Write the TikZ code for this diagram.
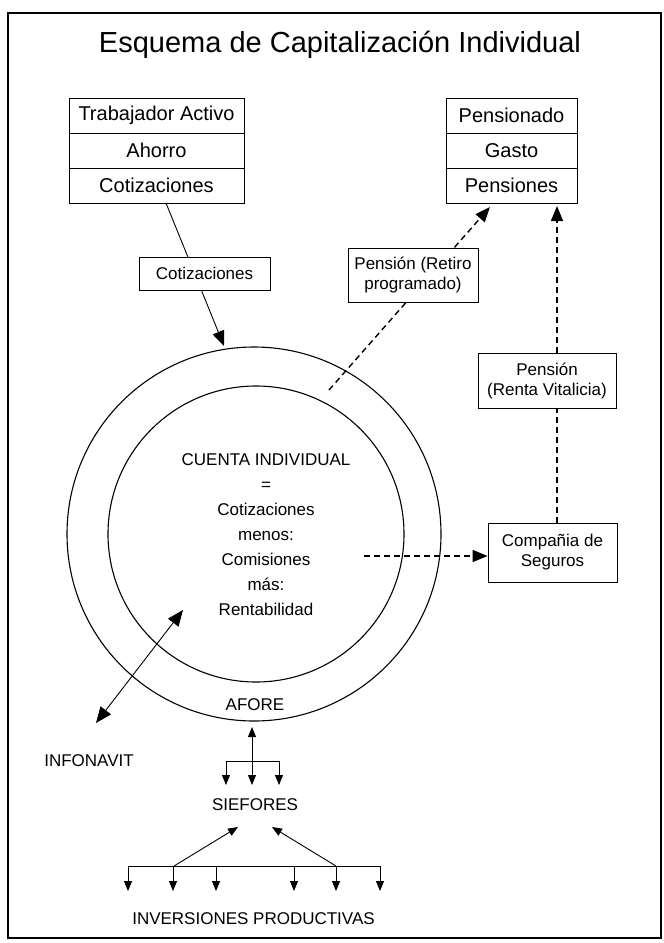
\documentclass[tikz,border=0pt]{standalone}
\usepackage{fontspec}
\setmainfont{Liberation Sans}
\usetikzlibrary{arrows.meta}
\begin{document}
\begin{tikzpicture}[x=1pt,y=-1pt,
  stackbox/.style={draw, line width=0.8pt, inner sep=0pt, minimum height=35pt, font=\fontsize{20}{22}\selectfont},
  lblbox/.style={draw, line width=0.8pt, fill=white, inner sep=0pt, align=center, font=\fontsize{17}{20}\selectfont},
  plain/.style={inner sep=0pt, font=\fontsize{17}{20}\selectfont},
  ctext/.style={inner sep=0pt, anchor=base, font=\fontsize{17}{20}\selectfont},
  ring/.style={draw, circle, line width=1.1pt, inner sep=0pt},
  conn/.style={line width=0.9pt},
  dconn/.style={line width=1.4pt, dash pattern=on 6pt off 4pt},
  bigtip/.style={-{Triangle[length=15pt,width=12pt]}},
  smalltip/.style={-{Triangle[length=10pt,width=8pt]}},
  dbltip/.style={{Triangle[length=16pt,width=13pt]}-{Triangle[length=16pt,width=13pt]}},
  dblsmall/.style={{Triangle[length=10pt,width=8pt]}-{Triangle[length=10pt,width=8pt]}},
]
\useasboundingbox (0,0) rectangle (664,943);
\draw[line width=2.5pt] (8,13) rectangle (661,938);

% title
\node[font=\fontsize{29}{33}\selectfont, anchor=base, inner sep=0pt] (title) at (340,52) {Esquema de Capitalización Individual};

% stacks
\node[stackbox, minimum width=175pt] (ta) at (156.5,115.5) {Trabajador Activo};
\node[stackbox, minimum width=175pt] (ah) at (156.5,150.5) {Ahorro};
\node[stackbox, minimum width=175pt] (ctz) at (156.5,185.5) {Cotizaciones};
\node[stackbox, minimum width=131pt] (pn) at (511.5,115.5) {Pensionado};
\node[stackbox, minimum width=131pt] (gs) at (511.5,150.5) {Gasto};
\node[stackbox, minimum width=131pt] (ps) at (511.5,185.5) {Pensiones};

% circles
\node[ring, minimum size=374pt] (outer) at (254,534) {};
\node[ring, minimum size=296pt] (inner) at (256,534) {};

\node[ctext] (cu1) at (266,465) {CUENTA INDIVIDUAL};
\node[ctext] (cu2) at (266,490) {=};
\node[ctext] (cu3) at (266,515) {Cotizaciones};
\node[ctext] (cu4) at (266,540) {menos:};
\node[ctext] (cu5) at (266,565) {Comisiones};
\node[ctext] (cu6) at (266,590) {más:};
\node[ctext] (cu7) at (266,615) {Rentabilidad};
\node[plain] (afore) at (255,705) {AFORE};

% cotizaciones arrow
\coordinate (cA) at (166,203);
\coordinate (cB) at (224,346);
\draw[conn,bigtip] (cA) -- (cB);
\node[lblbox, minimum width=131pt, minimum height=33pt] (lcot) at (204.5,273.5) {Cotizaciones};

% retiro programado
\coordinate (rA) at (329,390);
\coordinate (rB) at (490,207);
\draw[dconn,bigtip] (rA) -- (rB);
\node[lblbox, minimum width=130pt, minimum height=54pt] (lret) at (413,275) {Pensión (Retiro\\programado)};

% compania de seguros
\node[lblbox, minimum width=129pt, minimum height=59pt] (comp) at (552.5,552.5) {Compañia de\\Seguros};
\coordinate (vA) at (557,523);
\coordinate (vB) at (557,206);
\draw[dconn,bigtip] (vA) -- (vB);
\node[lblbox, minimum width=138pt, minimum height=55pt] (lren) at (547,380.5) {Pensión\\(Renta Vitalicia)};
\coordinate (hA) at (364,556);
\draw[dconn,bigtip] (hA) -- (hA -| comp.west);

% infonavit
\coordinate (iA) at (96,723);
\coordinate (iB) at (183,610);
\draw[conn,dbltip] (iA) -- (iB);
\node[plain] (infonavit) at (89,761) {INFONAVIT};

% afore - siefores
\coordinate (aUp) at (252,727);
\coordinate (aDn) at (252,785);
\draw[conn,dblsmall] (aUp) -- (aDn);
\coordinate (bL) at (226,761);
\coordinate (bR) at (279,761);
\draw[conn,smalltip] (bR) -- (bL) -- (bL |- aDn);
\draw[conn,smalltip] (bR) -- (bR |- aDn);
\node[plain] (sief) at (255,805) {SIEFORES};

% siefores - inversiones
\coordinate (sL) at (174,866);
\coordinate (sR) at (336,866);
\coordinate (sLt) at (238,827);
\coordinate (sRt) at (272,827);
\draw[conn,smalltip] (sL) -- (sLt);
\draw[conn,smalltip] (sR) -- (sRt);
\coordinate (gL) at (128,866);
\coordinate (gR) at (380,866);
\draw[conn] (gL) -- (gR);
\foreach \x in {128,173,216,294,336,380} {
  \coordinate (d\x) at (\x,866);
  \draw[conn,smalltip] (d\x) -- ++(0,25);
}
\node[plain] (inv) at (253.5,919) {INVERSIONES PRODUCTIVAS};
\end{tikzpicture}
\end{document}
